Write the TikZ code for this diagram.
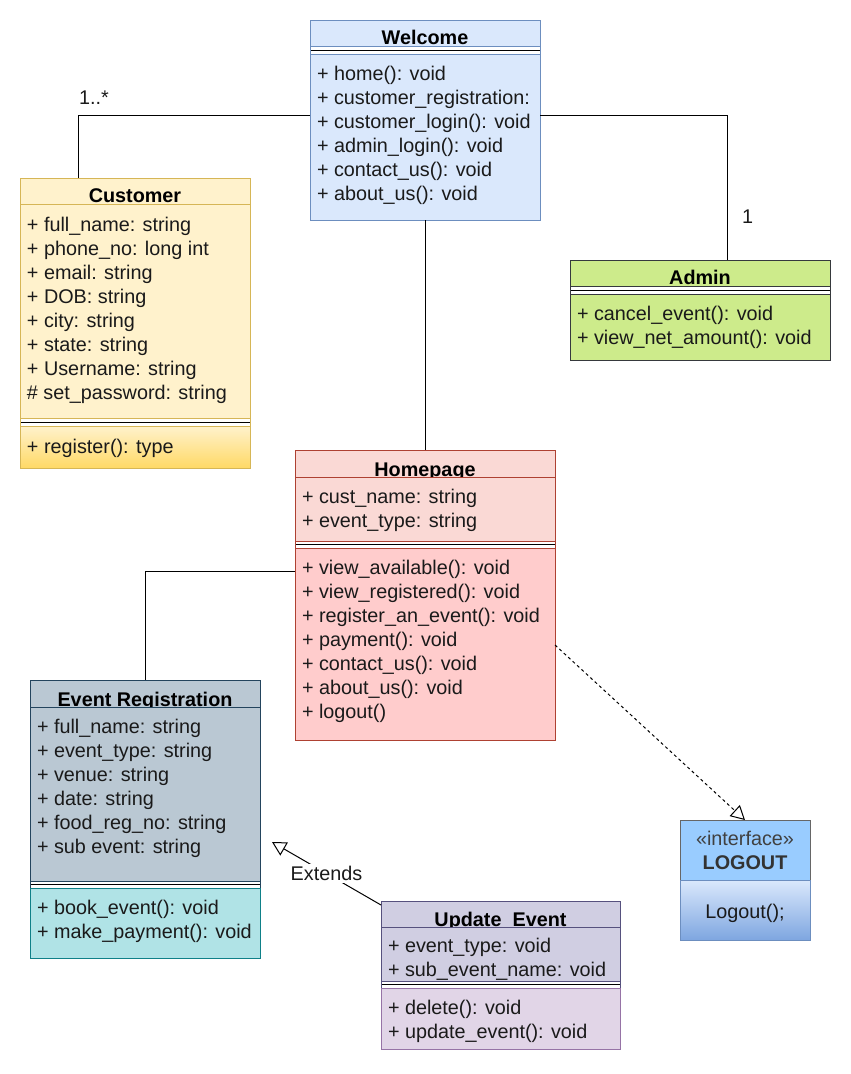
\documentclass[tikz,border=0pt]{standalone}
\usepackage{fontspec}
\setmainfont{Liberation Sans}
\usetikzlibrary{arrows.meta}

% class colours
\definecolor{welFill}{HTML}{DAE8FC}
\definecolor{welStroke}{HTML}{6C8EBF}
\definecolor{custFill}{HTML}{FFF2CC}
\definecolor{custGrad}{HTML}{FFD966}
\definecolor{custStroke}{HTML}{D6B656}
\definecolor{admFill}{HTML}{CDEB8B}
\definecolor{admStroke}{HTML}{36393D}
\definecolor{homeFill}{HTML}{FAD9D5}
\definecolor{homeMeth}{HTML}{FFCCCC}
\definecolor{homeStroke}{HTML}{AE4132}
\definecolor{erFill}{HTML}{BAC8D3}
\definecolor{erStroke}{HTML}{23445D}
\definecolor{erMeth}{HTML}{B0E3E6}
\definecolor{erMethStroke}{HTML}{0E8088}
\definecolor{updFill}{HTML}{D0CEE2}
\definecolor{updStroke}{HTML}{56517E}
\definecolor{updMeth}{HTML}{E1D5E7}
\definecolor{updMethStroke}{HTML}{9673A6}
\definecolor{logTop}{HTML}{99CCFF}
\definecolor{logTopStroke}{HTML}{666666}
\definecolor{logGradTop}{HTML}{DAE8FC}
\definecolor{logGradBot}{HTML}{7EA6E0}
\definecolor{ink}{HTML}{1A1A1A}

\begin{document}
\begin{tikzpicture}[x=1pt,y=-1pt,
  every node/.style={font=\fontsize{19.8}{24}\selectfont, text=ink, inner sep=0pt, outer sep=0pt},
  member/.style={anchor=base west},
  classtitle/.style={anchor=base, font=\fontsize{19.8}{24}\selectfont\bfseries, text=black},
  classframe/.style={rectangle, draw, line width=1pt, anchor=north west, inner sep=0pt, outer sep=0pt},
  rule/.style={line width=1pt},
  conn/.style={draw=black, line width=1pt},
  hollow/.style={-{Triangle[length=14pt,width=15pt,fill=white]}},
]
\useasboundingbox (0,0) rectangle (851,1074);

% ---------- Welcome ----------
\fill[welFill] (310,20) rectangle (540,220);
\node[classtitle] (welcome-t) at (425,44.5) {Welcome};
\fill[white] (310,46) rectangle (540,54);
\draw[rule, welStroke] (310,46) -- (540,46) (310,54) -- (540,54);
\draw[rule] (310,50) -- (540,50);
\foreach \t [count=\i] in {+ home(): void, + customer\_registration:, + customer\_login(): void,
  + admin\_login(): void, + contact\_us(): void, + about\_us(): void}
  \node[member] (welcome-m\i) at (317,56+24*\i) {\t};
\node[classframe, draw=welStroke, minimum width=230pt, minimum height=200pt] (welcome) at (310,20) {};

% ---------- Customer ----------
\fill[custFill] (20,178) rectangle (250,418);
\node[classtitle] (customer-t) at (135,202.5) {Customer};
\draw[rule, custStroke] (20,204) -- (250,204);
\foreach \t [count=\i] in {+ full\_name: string, + phone\_no: long int, + email: string,
  + DOB: string, + city: string, + state: string, + Username: string, \# set\_password: string}
  \node[member] (customer-a\i) at (27,207+24*\i) {\t};
\fill[white] (20,418) rectangle (250,426);
\shade[top color=custFill, bottom color=custGrad] (20,426) rectangle (250,468);
\draw[rule, custStroke] (20,418) -- (250,418) (20,426) -- (250,426);
\draw[rule] (20,422) -- (250,422);
\node[member] (customer-m1) at (27,453) {+ register(): type};
\node[classframe, draw=custStroke, minimum width=230pt, minimum height=290pt] (customer) at (20,178) {};

% ---------- Admin ----------
\fill[admFill] (570,260) rectangle (830,360);
\node[classtitle] (admin-t) at (700,284.5) {Admin};
\fill[white] (570,286) rectangle (830,294);
\draw[rule, admStroke] (570,286) -- (830,286) (570,294) -- (830,294);
\draw[rule] (570,290) -- (830,290);
\foreach \t [count=\i] in {+ cancel\_event(): void, + view\_net\_amount(): void}
  \node[member] (admin-m\i) at (577,296+24*\i) {\t};
\node[classframe, draw=admStroke, minimum width=260pt, minimum height=100pt] (admin) at (570,260) {};

% ---------- Homepage ----------
\fill[homeFill] (295,450) rectangle (555,477);
\node[classtitle] (homepage-t) at (425,476.5) {Homepage};
\filldraw[rule, fill=homeFill, draw=homeStroke] (295,477) rectangle (555,541);
\fill[white] (295,541) rectangle (555,548);
\filldraw[rule, fill=homeMeth, draw=homeStroke] (295,548) rectangle (555,740);
\draw[rule, homeStroke] (295,541) -- (555,541);
\draw[rule] (295,544.5) -- (555,544.5);
\foreach \t [count=\i] in {+ cust\_name: string, + event\_type: string}
  \node[member] (homepage-a\i) at (302,479+24*\i) {\t};
\foreach \t [count=\i] in {+ view\_available(): void, + view\_registered(): void,
  + register\_an\_event(): void, + payment(): void, + contact\_us(): void,
  + about\_us(): void, + logout()}
  \node[member] (homepage-m\i) at (302,550+24*\i) {\t};
\node[classframe, draw=homeStroke, minimum width=260pt, minimum height=290pt] (homepage) at (295,450) {};

% ---------- Event Registration ----------
\fill[erFill] (30,680) rectangle (260,707);
\node[classtitle] (eventreg-t) at (145,706.5) {Event Registration};
\filldraw[rule, fill=erFill, draw=erStroke] (30,707) rectangle (260,881);
\fill[white] (30,881) rectangle (260,888);
\filldraw[rule, fill=erMeth, draw=erMethStroke] (30,888) rectangle (260,958);
\draw[rule, erStroke] (30,881) -- (260,881);
\draw[rule] (30,884.5) -- (260,884.5);
\foreach \t [count=\i] in {+ full\_name: string, + event\_type: string, + venue: string,
  + date: string, + food\_reg\_no: string, + sub event: string}
  \node[member] (eventreg-a\i) at (37,709+24*\i) {\t};
\foreach \t [count=\i] in {+ book\_event(): void, + make\_payment(): void}
  \node[member] (eventreg-m\i) at (37,890+24*\i) {\t};
\node[classframe, draw=erStroke, minimum width=230pt, minimum height=278pt] (eventreg) at (30,680) {};
\draw[rule, erMethStroke] (30,888) -- (30,958) -- (260,958) -- (260,888);

% ---------- Update_Event ----------
\fill[updFill] (381,901) rectangle (620,927);
\node[classtitle] (update-t) at (500.5,926.5) {Update\_Event};
\filldraw[rule, fill=updFill, draw=updStroke] (381,927) rectangle (620,981);
\fill[white] (381,981) rectangle (620,988);
\filldraw[rule, fill=updMeth, draw=updMethStroke] (381,988) rectangle (620,1049);
\draw[rule, updStroke] (381,981) -- (620,981);
\draw[rule] (381,984.5) -- (620,984.5);
\foreach \t [count=\i] in {+ event\_type: void, + sub\_event\_name: void}
  \node[member] (update-a\i) at (388,928+24*\i) {\t};
\foreach \t [count=\i] in {+ delete(): void, + update\_event(): void}
  \node[member] (update-m\i) at (388,990+24*\i) {\t};
\node[classframe, draw=updStroke, minimum width=239pt, minimum height=148pt] (update) at (381,901) {};
\draw[rule, updMethStroke] (381,988) -- (381,1049) -- (620,1049) -- (620,988);

% ---------- LOGOUT interface ----------
\fill[logTop] (680,820) rectangle (810,880);
\shade[top color=logGradTop, bottom color=logGradBot] (680,880) rectangle (810,940);
\node[anchor=base, text=black!75] (logout-s) at (745,845) {«interface»};
\node[classtitle, text=black!80] (logout-t) at (745,869) {LOGOUT};
\node[anchor=base] (logout-m) at (745,918) {Logout();};
\node[classframe, draw=logTopStroke, minimum width=130pt, minimum height=120pt] (logout) at (680,820) {};
\draw[rule, welStroke] (680,880) rectangle (810,940);

% ---------- connectors ----------
\draw[conn] ([yshift=5pt]welcome.west) -| ([xshift=-57pt]customer.north);
\node[anchor=base west] (mult-cust) at (79,104) {1..*};
\draw[conn] ([yshift=5pt]welcome.east) -| ([xshift=27pt]admin.north);
\node[anchor=base west] (mult-admin) at (742,223) {1};
\draw[conn] (welcome.south) -- (homepage.north);
\draw[conn] ([yshift=24pt]homepage.west) -| (eventreg.north);
\draw[conn, dashed, hollow] ([yshift=-50pt]homepage.east) -- (logout.north);
\coordinate (extTip) at (272,842);
\draw[conn, hollow] ([yshift=-4pt]update.north west) --
  node[fill=white, inner sep=2pt] (extends) {Extends} (extTip);
\end{tikzpicture}
\end{document}
